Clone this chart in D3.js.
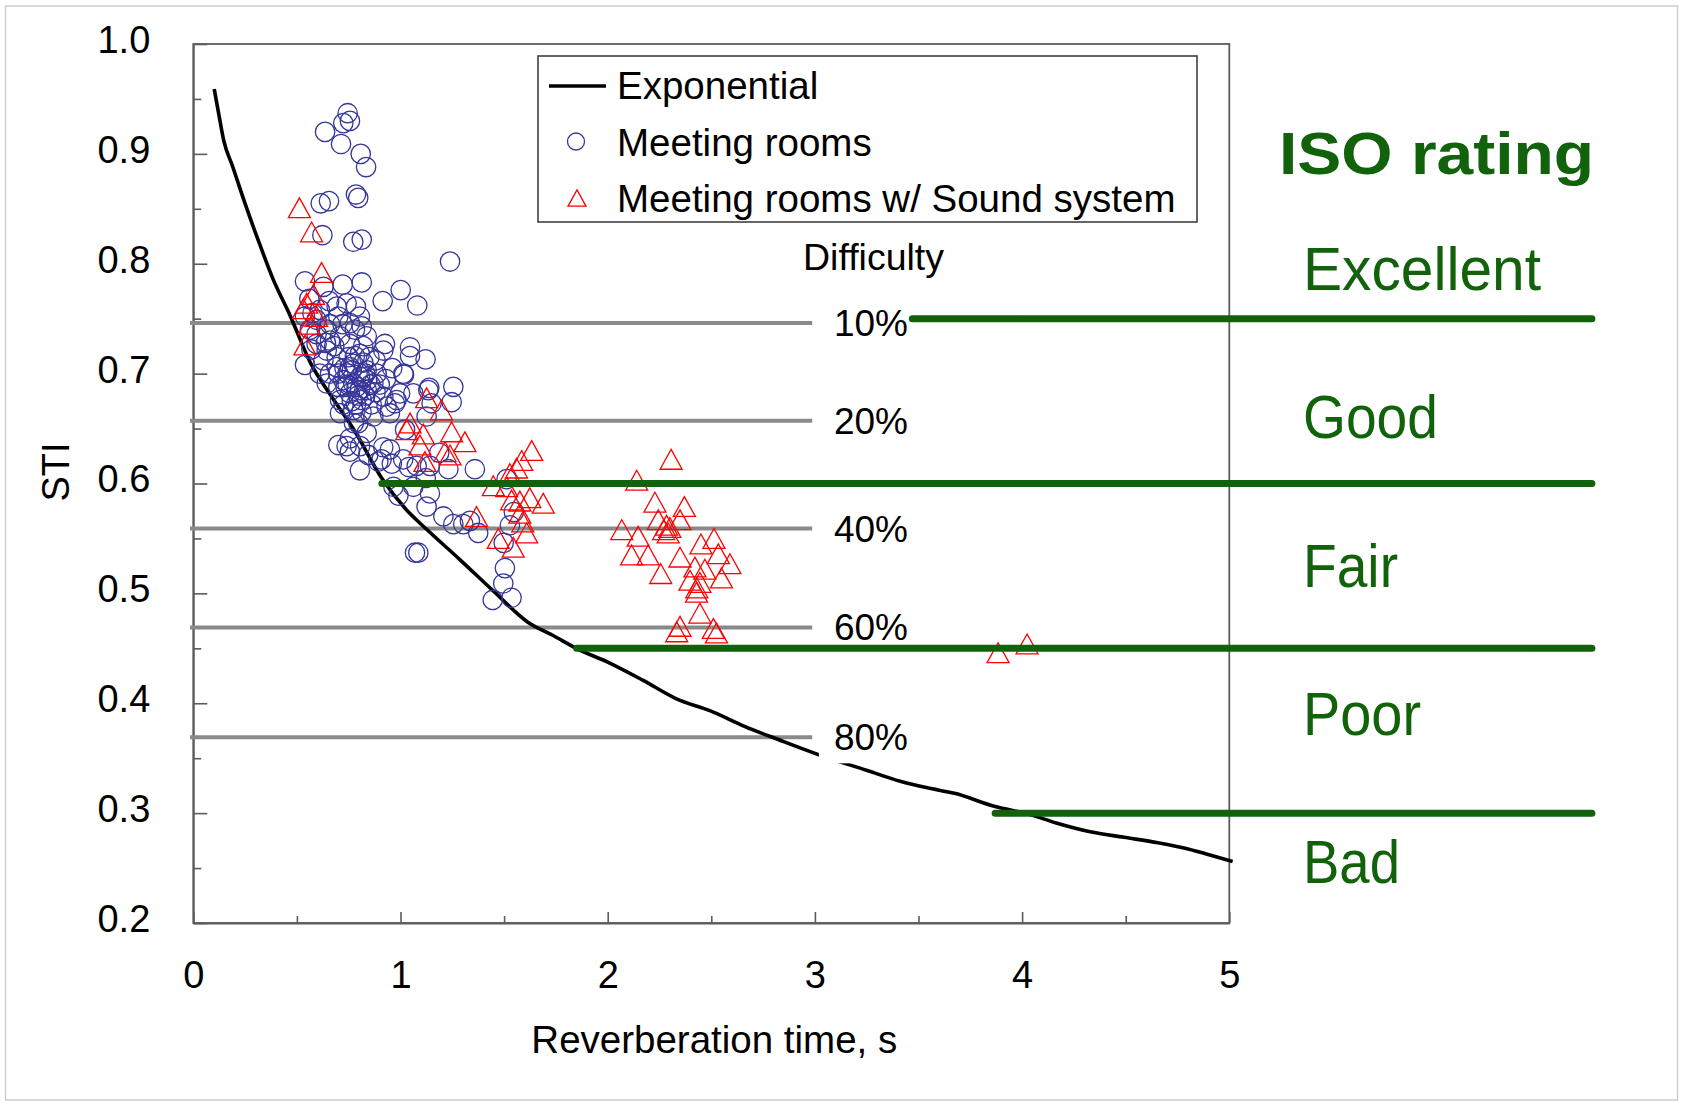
<!DOCTYPE html>
<html>
<head>
<meta charset="utf-8">
<script src="https://cdn.jsdelivr.net/npm/d3@7"></script>
<style>
  html, body { margin: 0; padding: 0; background: #fff; }
  svg { display: block; }
  text { font-family: "Liberation Sans", Arial, sans-serif; fill: #000; }
</style>
</head>
<body>
<svg id="chart" width="1681" height="1102"></svg>
<script>
// ---- data ----
const xTickValues = [0, 1, 2, 3, 4, 5];
const xMinorTicks = [0.5, 1.5, 2.5, 3.5, 4.5];
const yTickValues = [0.2, 0.3, 0.4, 0.5, 0.6, 0.7, 0.8, 0.9, 1.0];
const yMinorTicks = [0.25, 0.35, 0.45, 0.55, 0.65, 0.75, 0.85, 0.95];

// exponential fit, STI vs reverberation time
const curveRT  = [0.101, 0.124, 0.147, 0.189, 0.255, 0.320, 0.385, 0.467, 0.565, 0.664, 0.778, 0.909, 1.024, 1.122, 1.285, 1.449, 1.613, 1.743, 1.848, 2.005, 2.169, 2.332, 2.496, 2.660, 2.823, 3.036, 3.249, 3.412, 3.543, 3.674, 3.870, 4.034, 4.165, 4.329, 4.492, 4.656, 4.787, 4.885, 5.016];
const curveSTI = [0.959, 0.935, 0.912, 0.889, 0.852, 0.818, 0.786, 0.753, 0.710, 0.680, 0.648, 0.605, 0.577, 0.559, 0.531, 0.502, 0.474, 0.461, 0.450, 0.437, 0.421, 0.404, 0.393, 0.379, 0.367, 0.352, 0.339, 0.329, 0.323, 0.318, 0.306, 0.299, 0.291, 0.283, 0.278, 0.273, 0.268, 0.263, 0.256];

// meeting rooms [RT, STI]
const meetingRooms = [
  [0.745,0.937],[0.756,0.930],[0.724,0.928],[0.636,0.920],[0.713,0.909],[0.808,0.900],[0.834,0.888],
  [0.785,0.863],[0.796,0.860],[0.615,0.855],[0.655,0.857],[0.623,0.826],[0.772,0.820],[0.813,0.822],[1.239,0.802],
  [0.539,0.784],[0.721,0.781],[0.813,0.783],[1.001,0.776],[0.914,0.766],[1.081,0.762],[0.656,0.766],[0.628,0.779],
  [0.539,0.752],[0.595,0.749],[0.692,0.761],[0.740,0.764],[0.785,0.761],[0.804,0.752],[0.756,0.746],[0.813,0.743],
  [0.925,0.727],[1.046,0.724],[1.121,0.713],[1.014,0.700],[0.885,0.700],[0.539,0.708],[1.255,0.688],[0.917,0.721],
  [0.644,0.740],[0.708,0.734],[0.756,0.727],[0.804,0.718],[0.692,0.715],[0.756,0.706],[0.821,0.697],[0.869,0.691],
  [0.595,0.727],[0.644,0.721],[0.563,0.740],[0.837,0.734],[0.660,0.700],[0.724,0.694],[0.772,0.691],[0.804,0.685],
  [0.611,0.758],[0.595,0.736],[0.660,0.730],[1.046,0.716],[0.628,0.712],[0.692,0.706],[0.772,0.709],[0.837,0.703],
  [0.644,0.691],[0.805,0.697],[0.788,0.688],[0.837,0.685],[0.756,0.682],[0.708,0.676],[0.813,0.676],[0.772,0.667],
  [0.861,0.672],[0.917,0.679],[0.998,0.682],[1.062,0.682],[1.134,0.685],[1.017,0.699],[0.973,0.673],[0.949,0.664],
  [0.869,0.661],[0.708,0.664],[0.796,0.655],[0.837,0.646],[0.756,0.641],[0.805,0.634],[0.740,0.634],
  [0.765,0.703],[0.830,0.700],[0.855,0.690],[0.745,0.690],[0.880,0.683],[0.700,0.688],[0.795,0.680],[0.780,0.716],
  [0.745,0.700],[0.820,0.710],[0.785,0.672],[0.830,0.680],[0.750,0.715],[0.700,0.700],[0.730,0.705],[0.735,0.688],
  [0.765,0.675],[0.812,0.665],[0.840,0.694],[0.775,0.655],[0.725,0.672],[0.850,0.715],[0.680,0.725],[0.720,0.745],
  [0.780,0.740],[0.820,0.725],[0.700,0.752],[0.660,0.745],[0.640,0.728],[0.575,0.755],[0.560,0.768],[0.610,0.700],
  [0.570,0.722],[0.880,0.712],[0.900,0.690],[0.930,0.695],[0.960,0.705],
  [1.139,0.687],[1.247,0.674],[0.981,0.676],[0.933,0.670],[1.126,0.661],[1.150,0.673],[1.022,0.649],[0.756,0.629],
  [0.804,0.612],[0.917,0.633],[0.949,0.631],[0.909,0.622],[1.013,0.622],[1.078,0.616],[1.142,0.616],[1.231,0.613],
  [1.359,0.613],[0.966,0.597],[0.990,0.589],[1.062,0.597],[1.142,0.591],[1.126,0.579],[1.207,0.570],[1.255,0.563],
  [1.303,0.563],[1.335,0.566],[1.375,0.555],[1.070,0.537],[1.086,0.537],[1.504,0.523],[1.496,0.509],[1.445,0.494],
  [1.536,0.496],[1.528,0.562],[1.512,0.604],[0.700,0.635],[0.844,0.626],[0.893,0.620],[0.958,0.618],[1.040,0.615],
  [1.187,0.628],[1.122,0.605],[1.547,0.574],[1.498,0.546]
];

// meeting rooms with sound system [RT, STI]
const soundSystemRooms = [
  [0.512,0.851],[0.571,0.829],[0.619,0.792],[0.580,0.772],[0.547,0.764],[0.595,0.752],[0.539,0.726],[0.531,0.759],[0.560,0.745],
  [1.126,0.678],[1.198,0.667],[1.046,0.655],[1.030,0.649],[1.110,0.645],[1.247,0.647],[1.311,0.638],[1.094,0.635],
  [1.215,0.629],[1.118,0.620],[1.239,0.626],[1.633,0.630],[1.585,0.621],[1.560,0.614],[1.528,0.609],[1.448,0.598],
  [1.512,0.597],[1.536,0.585],[1.576,0.584],[1.624,0.587],[1.689,0.582],[1.576,0.573],[1.367,0.570],[1.472,0.550],
  [1.544,0.542],[1.609,0.555],[1.590,0.565],
  [2.306,0.622],[2.140,0.603],[2.228,0.583],[2.370,0.579],[2.068,0.558],[2.244,0.567],[2.349,0.567],[2.284,0.562],
  [2.292,0.555],[2.300,0.560],[2.270,0.558],[2.147,0.552],[2.115,0.535],[2.195,0.535],[2.256,0.518],[2.349,0.533],
  [2.450,0.545],[2.513,0.550],[2.534,0.536],[2.590,0.527],[2.421,0.524],[2.469,0.522],[2.397,0.512],[2.445,0.510],
  [2.430,0.505],[2.549,0.514],[2.429,0.501],[2.445,0.482],[2.349,0.470],[2.333,0.465],[2.525,0.464],[2.510,0.468],
  [3.884,0.446],[4.024,0.454]
];

// listening difficulty reference levels
const difficultySTI = [0.746, 0.657, 0.559, 0.469, 0.369];
const difficultyLabels = ["10%", "20%", "40%", "60%", "80%"];
const difficultyRange = [-0.016, 2.987];

// ISO rating band limits
const isoLimits = [0.75, 0.60, 0.45, 0.30];
const isoLimitFrom = [3.47, 0.91, 1.85, 3.87];
const isoLimitTo = 6.75;
const isoRatings = ["Excellent", "Good", "Fair", "Poor", "Bad"];

// ---- drawing ----
const svg = d3.select("#chart");
const plot = { left: 193.3, right: 1229.3, top: 44, bottom: 923 };
const x = d3.scaleLinear().domain([0, 5]).range([plot.left, plot.right]);
const y = d3.scaleLinear().domain([0.2, 1.0]).range([plot.bottom, plot.top]);

const green = "#11620b";
const axisGray = "#5c5c5c";

// page frame
svg.append("rect").attr("x", 5.5).attr("y", 6).attr("width", 1672).attr("height", 1094)
  .attr("fill", "#fff").attr("stroke", "#cdcdcd").attr("stroke-width", 1.5);

// plot frame
svg.append("rect")
  .attr("x", plot.left).attr("y", plot.top)
  .attr("width", plot.right - plot.left).attr("height", plot.bottom - plot.top)
  .attr("fill", "none").attr("stroke", axisGray).attr("stroke-width", 1.8);

// axes
function styleAxis(g) {
  g.selectAll("path.domain").attr("stroke", axisGray).attr("stroke-width", 1.8);
  g.selectAll(".tick line").attr("stroke", axisGray).attr("stroke-width", 1.6);
  g.selectAll("text").attr("font-size", 38).attr("fill", "#000")
    .attr("font-family", "\"Liberation Sans\", Arial, sans-serif");
}

const yAxis = svg.append("g").attr("transform", `translate(${plot.left},0)`)
  .call(d3.axisLeft(y).tickValues(yTickValues).tickFormat(d3.format(".1f"))
    .tickSizeInner(-14).tickSizeOuter(0).tickPadding(43));
styleAxis(yAxis);
yAxis.selectAll("text").attr("dy", "0.22em");

const yMinor = svg.append("g").attr("transform", `translate(${plot.left},0)`)
  .call(d3.axisLeft(y).tickValues(yMinorTicks).tickFormat("").tickSizeInner(-8).tickSizeOuter(0));
styleAxis(yMinor);
yMinor.select("path.domain").remove();

const xAxis = svg.append("g").attr("transform", `translate(0,${plot.bottom})`)
  .call(d3.axisBottom(x).tickValues(xTickValues).tickFormat(d3.format("d"))
    .tickSizeInner(-11).tickSizeOuter(0).tickPadding(38));
styleAxis(xAxis);

const xMinor = svg.append("g").attr("transform", `translate(0,${plot.bottom})`)
  .call(d3.axisBottom(x).tickValues(xMinorTicks).tickFormat("").tickSizeInner(-7).tickSizeOuter(0));
styleAxis(xMinor);
xMinor.select("path.domain").remove();

// axis titles
svg.append("text").attr("transform", `translate(69,472) rotate(-90)`)
  .attr("text-anchor", "middle").attr("font-size", 38).text("STI");
svg.append("text").attr("x", (x(0) + x(5)) / 2 + 3).attr("y", 1053)
  .attr("text-anchor", "middle").attr("font-size", 38.5).text("Reverberation time, s");

// difficulty reference lines
svg.append("g").selectAll("line").data(difficultySTI).join("line")
  .attr("x1", x(difficultyRange[0])).attr("x2", x(difficultyRange[1]))
  .attr("y1", d => y(d)).attr("y2", d => y(d))
  .attr("stroke", "#8a8a8a").attr("stroke-width", 4);

// exponential curve
const curvePoints = curveRT.map((t, i) => [t, curveSTI[i]]);
svg.append("path").datum(curvePoints)
  .attr("fill", "none").attr("stroke", "#000").attr("stroke-width", 3.6)
  .attr("stroke-linejoin", "round")
  .attr("d", d3.line().x(d => x(d[0])).y(d => y(d[1])).curve(d3.curveMonotoneX));

// meeting rooms: open circles
svg.append("g").selectAll("circle").data(meetingRooms).join("circle")
  .attr("cx", d => x(d[0])).attr("cy", d => y(d[1])).attr("r", 9.7)
  .attr("fill", "none").attr("stroke", "#35359b").attr("stroke-width", 1.3);

// triangle marker, box-centred on the point
const triangleUp = {
  draw(ctx, size) {
    const w = Math.sqrt(size), h = w * 0.9;
    ctx.moveTo(0, -h / 2);
    ctx.lineTo(w / 2, h / 2);
    ctx.lineTo(-w / 2, h / 2);
    ctx.closePath();
  }
};
const triangle = d3.symbol().type(triangleUp).size(22 * 22);

svg.append("g").selectAll("path").data(soundSystemRooms).join("path")
  .attr("transform", d => `translate(${x(d[0])},${y(d[1])})`)
  .attr("d", triangle)
  .attr("fill", "none").attr("stroke", "#ff0000").attr("stroke-width", 1.3);

// difficulty labels (opaque boxes)
const diffG = svg.append("g");
diffG.selectAll("rect").data(difficultySTI).join("rect")
  .attr("x", x(3) + 4).attr("y", d => y(d) - 28)
  .attr("width", 94).attr("height", 54).attr("fill", "#fff");
diffG.selectAll("text").data(difficultySTI).join("text")
  .attr("x", x(3) + 19).attr("y", d => y(d) + 13)
  .attr("font-size", 37).text((d, i) => difficultyLabels[i]);
svg.append("text").attr("x", 803).attr("y", 270).attr("font-size", 37.5).text("Difficulty");

// ISO rating limits
svg.append("g").selectAll("line").data(isoLimits).join("line")
  .attr("x1", (d, i) => x(isoLimitFrom[i])).attr("x2", x(isoLimitTo))
  .attr("y1", d => y(d)).attr("y2", d => y(d))
  .attr("stroke", green).attr("stroke-width", 7).attr("stroke-linecap", "round");

// ISO rating texts
const ratingFont = "\"DejaVu Sans\", Verdana, sans-serif";
svg.append("text").attr("x", 1279).attr("y", 174)
  .attr("font-family", ratingFont).attr("font-weight", "bold").attr("font-size", 60)
  .attr("textLength", 315).attr("lengthAdjust", "spacingAndGlyphs")
  .style("fill", green).text("ISO rating");
const ratingWidths = [238, 135, 95, 118, 97];
svg.append("g").selectAll("text").data(isoRatings).join("text")
  .attr("x", 1303).attr("y", (d, i) => 290 + i * 148.3)
  .attr("font-family", ratingFont).attr("font-size", 62)
  .attr("textLength", (d, i) => ratingWidths[i]).attr("lengthAdjust", "spacingAndGlyphs")
  .style("fill", green).text(d => d);

// legend
const lg = svg.append("g");
lg.append("rect").attr("x", 538).attr("y", 56).attr("width", 659).attr("height", 166)
  .attr("fill", "#fff").attr("stroke", "#404040").attr("stroke-width", 1.6);
lg.append("line").attr("x1", 549).attr("x2", 606).attr("y1", 86).attr("y2", 86)
  .attr("stroke", "#000").attr("stroke-width", 3.6);
lg.append("circle").attr("cx", 576).attr("cy", 141.5).attr("r", 8.5)
  .attr("fill", "none").attr("stroke", "#35359b").attr("stroke-width", 1.3);
lg.append("path").attr("transform", "translate(577,198)")
  .attr("d", d3.symbol().type(triangleUp).size(18 * 18))
  .attr("fill", "none").attr("stroke", "#ff0000").attr("stroke-width", 1.3);
const legendLabels = ["Exponential", "Meeting rooms", "Meeting rooms w/ Sound system"];
lg.selectAll("text").data(legendLabels).join("text")
  .attr("x", 617).attr("y", (d, i) => 99 + i * 56.5)
  .attr("font-size", 38.5).text(d => d);
</script>
</body>
</html>
